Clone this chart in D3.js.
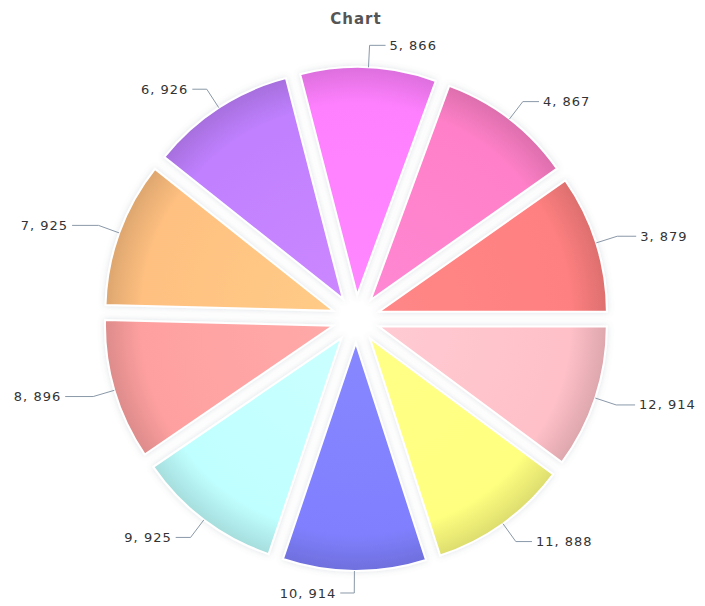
<!DOCTYPE html>
<html>
<head>
<meta charset="utf-8">
<script src="https://cdn.jsdelivr.net/npm/d3@7"></script>
<style>
  body { margin: 0; background: #fff; }
  text { font-family: "DejaVu Sans", Verdana, sans-serif; }
</style>
</head>
<body>
<svg width="705" height="606"></svg>
<script>
// slice names and values, counter-clockwise from 3 o'clock
var categories = ["3", "4", "5", "6", "7", "8", "9", "10", "11", "12"];
var values = [879, 867, 866, 926, 925, 896, 925, 914, 888, 914];
var colors = ["#ff8080", "#ff80c8", "#ff80ff", "#c080ff", "#ffc080",
              "#ffa0a0", "#c0ffff", "#8080ff", "#ffff80", "#ffc0c8"];

var svg = d3.select("svg");
var width = +svg.attr("width"), height = +svg.attr("height");

let cx = 356, cy = 319;
let radius = 228, explode = 24;

var data = categories.map(function (c, i) {
    return { name: c, value: values[i], color: colors[i] };
});

var defs = svg.append("defs");

// soft shadow around every slice
var f = defs.append("filter").attr("id", "soft")
    .attr("x", "-20%").attr("y", "-20%").attr("width", "140%").attr("height", "140%");
f.append("feGaussianBlur").attr("in", "SourceAlpha").attr("stdDeviation", 3).attr("result", "b");
f.append("feFlood").attr("flood-color", "#6a7a8a").attr("flood-opacity", 0.22);
f.append("feComposite").attr("in2", "b").attr("operator", "in").attr("result", "sh");
var fm = f.append("feMerge");
fm.append("feMergeNode").attr("in", "sh");
fm.append("feMergeNode").attr("in", "SourceGraphic");

// title
svg.append("text")
    .attr("x", cx).attr("y", 24)
    .attr("text-anchor", "middle")
    .style("font-size", "15px").style("font-weight", "bold")
    .style("letter-spacing", "1px")
    .style("fill", "#555")
    .text("Chart");

var pie = d3.pie()
    .value(function (d) { return d.value; })
    .sort(null)
    .startAngle(Math.PI / 2)
    .endAngle(Math.PI / 2 - 2 * Math.PI);

var arc = d3.arc().innerRadius(0).outerRadius(radius);
var arcs = pie(data);

function mid(d) { return (d.startAngle + d.endAngle) / 2; }

// darker rim along the outer edge
arcs.forEach(function (d, i) {
    var g = defs.append("radialGradient").attr("id", "grad" + i)
        .attr("gradientUnits", "userSpaceOnUse")
        .attr("cx", 0).attr("cy", 0).attr("r", radius);
    var c = d3.color(d.data.color);
    g.append("stop").attr("offset", "0%").attr("stop-color", c.brighter(0.15));
    g.append("stop").attr("offset", "84%").attr("stop-color", c);
    g.append("stop").attr("offset", "100%").attr("stop-color", c.darker(0.4));
});

var chart = svg.append("g").attr("transform", `translate(${cx},${cy})`);

chart.selectAll("g.slice")
    .data(arcs)
    .enter().append("g")
    .attr("class", "slice")
    .attr("transform", function (d) {
        var a = mid(d);
        return `translate(${explode * Math.sin(a)},${-explode * Math.cos(a)})`;
    })
    .append("path")
    .attr("d", arc)
    .attr("fill", function (d, i) { return "url(#grad" + i + ")"; })
    .attr("stroke", "#fff")
    .attr("stroke-width", 2)
    .attr("filter", "url(#soft)");

// labels with leader lines
var rEdge = radius + explode, rOut = rEdge + 22;

function ext(d) {
    var s = Math.sin(mid(d));
    return s < 0 ? 14 + 18 * Math.pow(-s, 6) : 16 + 4 * Math.pow(s, 6);
}

var lab = chart.selectAll("g.label")
    .data(arcs)
    .enter().append("g")
    .attr("class", "label");

lab.append("polyline")
    .attr("fill", "none")
    .attr("stroke", "#8a98a8")
    .attr("stroke-width", 1)
    .attr("points", function (d) {
        var a = mid(d), s = Math.sin(a) >= 0 ? 1 : -1;
        var x0 = rEdge * Math.sin(a), y0 = -rEdge * Math.cos(a);
        var x1 = rOut * Math.sin(a), y1 = -rOut * Math.cos(a);
        return [[x0, y0], [x1, y1], [x1 + s * ext(d), y1]].join(" ");
    });

lab.append("text")
    .attr("x", function (d) {
        var a = mid(d), s = Math.sin(a) >= 0 ? 1 : -1;
        return rOut * Math.sin(a) + s * (ext(d) + 4);
    })
    .attr("y", function (d) { return -rOut * Math.cos(mid(d)); })
    .attr("dy", "0.35em")
    .attr("text-anchor", function (d) { return Math.sin(mid(d)) >= 0 ? "start" : "end"; })
    .style("font-size", "13px")
    .style("letter-spacing", "1px")
    .style("fill", "#333")
    .text(function (d) { return d.data.name + ", " + d.data.value; });
</script>
</body>
</html>
